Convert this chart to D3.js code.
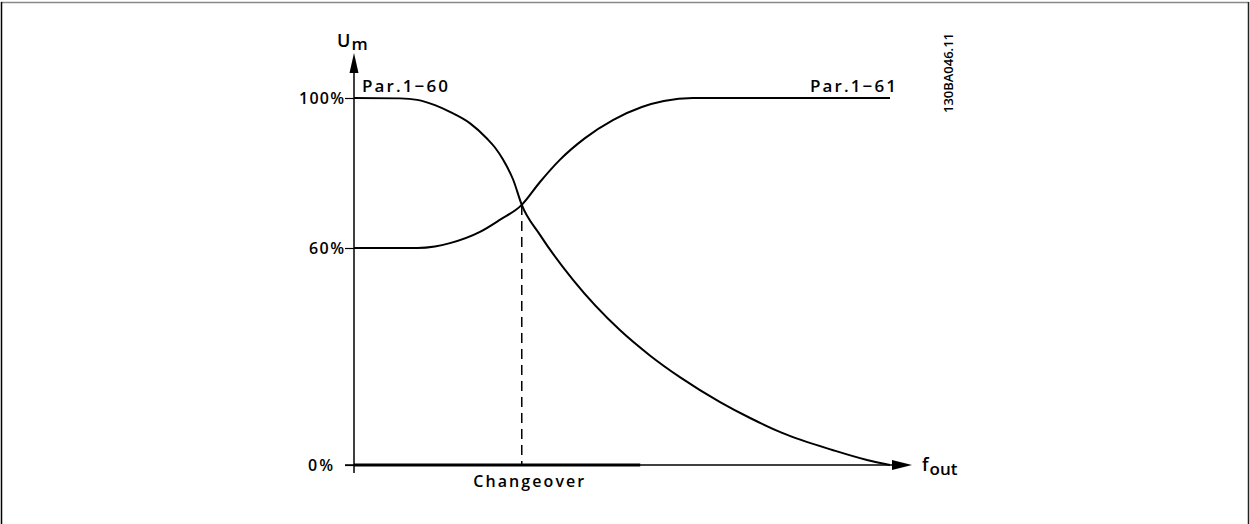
<!DOCTYPE html>
<html><head><meta charset="utf-8">
<script src="https://cdn.jsdelivr.net/npm/d3@7"></script>
<style>
html,body{margin:0;padding:0;background:#fff;}
svg{display:block;}
text{font-family:"Open Sans","DejaVu Sans",sans-serif;font-weight:600;fill:#000;}
</style></head>
<body><svg id="c" width="1250" height="524"></svg>
<script>
// Data (percent of output frequency range vs percent of motor voltage)
const freqPar160 = [0, 8.6, 11.8, 15.1, 17.9, 21.6, 24.8, 26.3, 27.8, 29.7, 31.3, 34.7, 40.9, 49.6, 55.2, 60.8, 68.3, 73.9, 80.0, 89.4, 95.7, 100];
const voltPar160 = [100, 99.9, 99.5, 98.1, 96.3, 93.3, 89.2, 86.8, 83.6, 78.2, 71.5, 63.5, 51.1, 37.3, 30.3, 24.3, 17.4, 13.0, 8.8, 4.1, 1.4, 0];
const freqPar161 = [0, 11.8, 15.1, 17.9, 23.5, 27.2, 31.3, 34.7, 38.4, 43.1, 48.3, 53.7, 57.8, 63.2, 100];
const voltPar161 = [60, 60, 60.4, 61.3, 64.3, 67.5, 71.5, 77.6, 83.5, 89.3, 94.1, 97.6, 99.2, 100, 100];
const changeoverFreq = [31.3];
const yTickValues = [0, 60, 100];
const seriesLabels = ["Par.1\u221260", "Par.1\u221261"];
const xAxisEnd = 104.1;
const thickAxisEnd = 53.4;

const svg = d3.select("#c");
const x = d3.scaleLinear().domain([0, 100]).range([354, 890]);
const y = d3.scaleLinear().domain([0, 60, 100]).range([465, 248, 98]);

// frame
svg.append("line").attr("x1",1).attr("x2",1249).attr("y1",2.5).attr("y2",2.5).attr("stroke","#888").attr("stroke-width",1.5);
svg.append("line").attr("x1",1.5).attr("x2",1.5).attr("y1",2).attr("y2",524).attr("stroke","#000").attr("stroke-width",1.5);
svg.append("line").attr("x1",1248.5).attr("x2",1248.5).attr("y1",2).attr("y2",524).attr("stroke","#222").attr("stroke-width",1.5);

// Y axis via d3 axis
const yAxis = d3.axisLeft(y).tickValues(yTickValues).tickSize(9).tickPadding(1).tickFormat(d => d + "%");
const gy = svg.append("g").attr("transform", `translate(${x(0)},0)`).call(yAxis);
gy.select(".domain").remove();
gy.selectAll(".tick line").attr("stroke","#000").attr("stroke-width",1.2);
gy.selectAll(".tick text").attr("font-size",16).attr("font-weight",600).attr("fill","#000")
  .attr("font-family","Open Sans, DejaVu Sans, sans-serif").attr("dy","0.36em")
  .attr("dx", d => d === 0 ? -11 : 0)
  .attr("textLength", d => d === 100 ? 45 : (d === 60 ? 35 : 25)).attr("lengthAdjust","spacing");

// vertical axis line + arrow
svg.append("line").attr("x1",x(0)).attr("x2",x(0)).attr("y1",473).attr("y2",70).attr("stroke","#000").attr("stroke-width",1.5);
svg.append("path").attr("d",`M${x(0)-4.5},73 L${x(0)},53 L${x(0)+4.5},73 Z`).attr("fill","#000");

// horizontal axis line + arrow
svg.append("line").attr("x1",x(0)-9).attr("x2",x(xAxisEnd)-16).attr("y1",y(0)).attr("y2",y(0)).attr("stroke","#000").attr("stroke-width",1.3);
svg.append("line").attr("x1",x(0)).attr("x2",x(thickAxisEnd)).attr("y1",y(0)).attr("y2",y(0)).attr("stroke","#000").attr("stroke-width",3);
svg.append("path").attr("d",`M${x(xAxisEnd)-20},${y(0)-5} L${x(xAxisEnd)},${y(0)} L${x(xAxisEnd)-20},${y(0)+5} Z`).attr("fill","#000");

// curves
const line = d3.line().x(d => x(d[0])).y(d => y(d[1])).curve(d3.curveMonotoneX);
const s160 = freqPar160.map((f,i) => [f, voltPar160[i]]);
const s161 = freqPar161.map((f,i) => [f, voltPar161[i]]);
svg.append("path").attr("d", line(s160)).attr("fill","none").attr("stroke","#000").attr("stroke-width",2);
svg.append("path").attr("d", line(s161)).attr("fill","none").attr("stroke","#000").attr("stroke-width",2);

// changeover dashed line
const cf = changeoverFreq[0];
const cy = y(voltPar160[freqPar160.indexOf(cf)]);
svg.append("line").attr("x1",x(cf)).attr("x2",x(cf)).attr("y1",cy).attr("y2",y(0))
  .attr("stroke","#000").attr("stroke-width",1.5).attr("stroke-dasharray","10,6");

// labels
svg.append("text").attr("x",362).attr("y",92).attr("font-size",17).attr("textLength",86).attr("lengthAdjust","spacing").text(seriesLabels[0]);
svg.append("text").attr("x",896).attr("y",92).attr("font-size",17).attr("text-anchor","end").attr("textLength",86).attr("lengthAdjust","spacing").text(seriesLabels[1]);
svg.append("text").attr("x",x(cf)+7).attr("y",487).attr("font-size",16).attr("text-anchor","middle").attr("textLength",111).attr("lengthAdjust","spacing").text("Changeover");

// axis titles
const um = svg.append("text").attr("x",337).attr("y",47).attr("font-size",18);
um.append("tspan").text("U");
um.append("tspan").attr("font-size",17).attr("dy",3).attr("dx",1).text("m");
const fo = svg.append("text").attr("x",922).attr("y",471).attr("font-size",18);
fo.append("tspan").text("f");
fo.append("tspan").attr("font-size",17).attr("dy",4).attr("dx",1).text("out");

// document id
svg.append("text").attr("transform","translate(953,113) rotate(-90)").attr("font-size",13).attr("font-weight",400).attr("textLength",80).attr("lengthAdjust","spacing").text("130BA046.11");
</script></body></html>
